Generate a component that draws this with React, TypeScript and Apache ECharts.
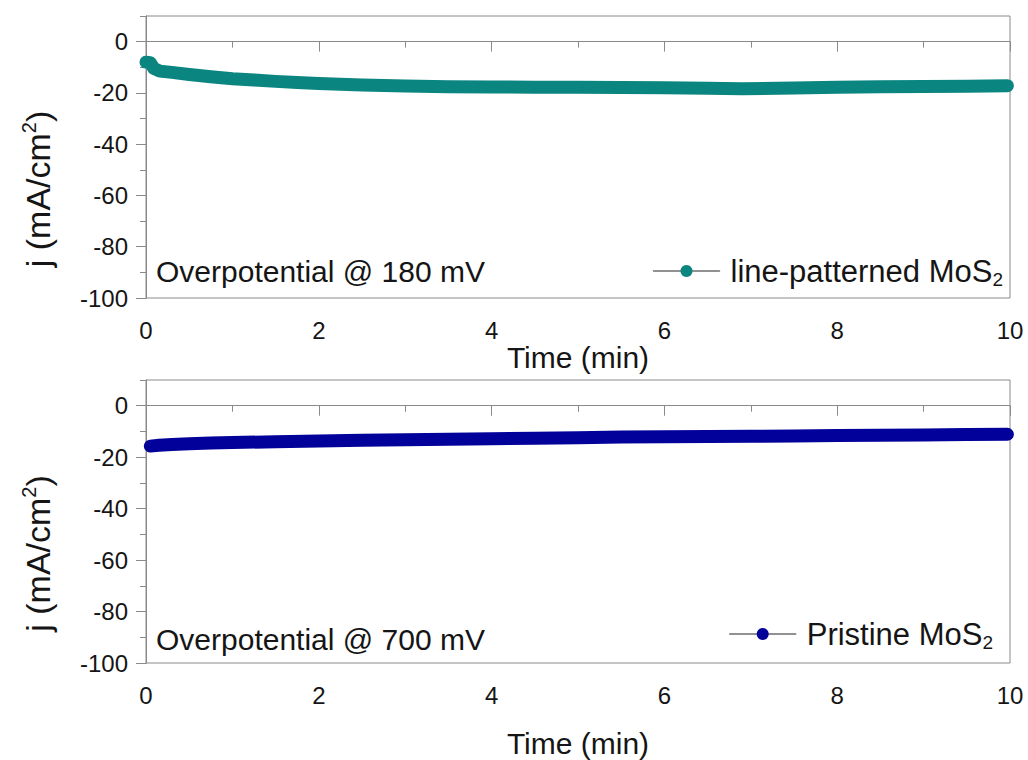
import React, { useEffect, useRef } from "react";
import * as echarts from "echarts";

const TIME_TOP = [0, 0.05, 0.09, 0.16, 0.3, 0.5, 0.75, 1.0, 1.25, 1.5, 1.75, 2.0, 2.5, 3.0, 3.5, 4.0, 4.5, 5.0, 5.5, 6.0, 6.5, 6.9, 7.5, 8.0, 8.5, 9.0, 9.5, 9.97];
const J_TOP = [-8.0, -8.2, -10.4, -11.5, -12.0, -12.8, -13.7, -14.5, -15.0, -15.5, -15.9, -16.3, -16.9, -17.3, -17.6, -17.7, -17.8, -17.8, -17.9, -18.0, -18.2, -18.4, -18.1, -17.8, -17.6, -17.5, -17.4, -17.2];

const TIME_BOTTOM = [0.05, 0.15, 0.3, 0.5, 0.75, 1.0, 1.5, 2.0, 2.5, 3.0, 3.5, 4.0, 4.5, 5.0, 5.5, 6.0, 6.5, 7.0, 7.5, 8.0, 8.5, 9.0, 9.5, 9.97];
const J_BOTTOM = [-15.7, -15.4, -15.1, -14.8, -14.5, -14.3, -14.0, -13.7, -13.4, -13.2, -13.0, -12.8, -12.6, -12.4, -12.2, -12.1, -12.0, -11.9, -11.8, -11.6, -11.5, -11.4, -11.2, -11.1];

const SERIES_NAMES = ["line-patterned MoS2", "Pristine MoS2"];
const ANNOTATIONS = ["Overpotential @ 180 mV", "Overpotential @ 700 mV"];
const X_TITLE = "Time (min)";
const Y_TITLE = "j (mA/cm{sup|2})";

const COLORS = ["#0b8580", "#02029a"];
const FONT = "Liberation Sans, Arial, Helvetica, sans-serif";
const AXIS_GRAY = "#8a8a8a";
const TEXT = "#151515";

export default function App() {
  const ref = useRef<HTMLDivElement>(null);

  useEffect(() => {
    document.body.style.margin = "0";
    const chart = echarts.init(ref.current!, null, { renderer: "svg" });

    const grids = [
      { left: 146, top: 16, width: 864, height: 282 },
      { left: 146, top: 380, width: 864, height: 283 },
    ];

    const xAxes = grids.map((_, i) => ({
      type: "value",
      gridIndex: i,
      min: 0,
      max: 10,
      interval: 2,
      name: X_TITLE,
      nameLocation: "middle",
      nameGap: i === 0 ? 44 : 65,
      nameTextStyle: { fontFamily: FONT, fontSize: 30, color: TEXT },
      axisLine: { show: true, lineStyle: { color: AXIS_GRAY, width: 1 } },
      axisTick: { show: true, inside: false, length: 10, lineStyle: { color: AXIS_GRAY } },
      minorTick: { show: true, splitNumber: 2, length: 6, lineStyle: { color: AXIS_GRAY } },
      axisLabel: { fontFamily: FONT, fontSize: 24, color: TEXT, margin: 20 },
      splitLine: { show: false },
    }));

    const yAxes: any[] = [];
    grids.forEach((_, i) => {
      yAxes.push({
        type: "value",
        gridIndex: i,
        position: "left",
        min: -100,
        max: 10,
        interval: 10,
        axisLine: { show: true, lineStyle: { color: AXIS_GRAY, width: 1 } },
        axisTick: { show: true, inside: false, length: 6, lineStyle: { color: AXIS_GRAY } },
        axisLabel: { show: false },
        splitLine: { show: false },
      });
      yAxes.push({
        type: "value",
        gridIndex: i,
        position: "left",
        min: -100,
        max: 10,
        interval: 20,
        name: Y_TITLE,
        nameLocation: "middle",
        nameGap: 89,
        nameTextStyle: {
          fontFamily: FONT,
          fontSize: 34,
          color: TEXT,
          lineHeight: 38,
          padding: [0, 64, 0, 0],
          rich: {
            sup: { fontFamily: FONT, fontSize: 20, color: TEXT, verticalAlign: "top", lineHeight: 18 },
          },
        },
        axisLine: { show: true, lineStyle: { color: AXIS_GRAY, width: 1 } },
        axisTick: { show: true, inside: false, length: 10, lineStyle: { color: AXIS_GRAY } },
        axisLabel: { fontFamily: FONT, fontSize: 24, color: TEXT, margin: 18, showMaxLabel: false },
        splitLine: { show: false },
      });
    });

    const topData = TIME_TOP.map((t, k) => [t, J_TOP[k]]);
    const bottomData = TIME_BOTTOM.map((t, k) => [t, J_BOTTOM[k]]);

    const legendCommon = {
      orient: "horizontal",
      padding: 0,
      itemWidth: 66,
      itemHeight: 15,
      lineStyle: { width: 1.5, color: "#6e6e6e" },
      formatter: (n: string) => n.slice(0, -1) + "{sub|2}",
      textStyle: {
        fontFamily: FONT,
        fontSize: 31,
        color: TEXT,
        lineHeight: 36,
        padding: [0, 0, 0, 6],
        rich: {
          sub: { fontFamily: FONT, fontSize: 19, color: TEXT, verticalAlign: "bottom", lineHeight: 8 },
        },
      },
    };

    chart.setOption({
      animation: false,
      backgroundColor: "#ffffff",
      grid: grids.map((g) => ({
        ...g,
        show: true,
        borderColor: AXIS_GRAY,
        borderWidth: 1,
        backgroundColor: "transparent",
      })),
      xAxis: xAxes,
      yAxis: yAxes,
      legend: [
        { ...legendCommon, data: [SERIES_NAMES[0]], right: 25, top: 253 },
        { ...legendCommon, data: [SERIES_NAMES[1]], right: 35, top: 616 },
      ],
      graphic: [
        {
          type: "text",
          left: 156,
          top: 256,
          style: { text: ANNOTATIONS[0], fontFamily: FONT, fontSize: 30, fill: TEXT },
        },
        {
          type: "text",
          left: 156,
          top: 624,
          style: { text: ANNOTATIONS[1], fontFamily: FONT, fontSize: 30, fill: TEXT },
        },
      ],
      series: [
        {
          name: SERIES_NAMES[0],
          type: "line",
          xAxisIndex: 0,
          yAxisIndex: 0,
          data: topData,
          symbol: "none",
          color: COLORS[0],
          lineStyle: { width: 13, color: COLORS[0], cap: "round", join: "round" },
        },
        {
          name: SERIES_NAMES[1],
          type: "line",
          xAxisIndex: 1,
          yAxisIndex: 2,
          data: bottomData,
          symbol: "none",
          color: COLORS[1],
          lineStyle: { width: 13, color: COLORS[1], cap: "round", join: "round" },
        },
      ],
    });

    return () => chart.dispose();
  }, []);

  return (
    <div
      ref={ref}
      style={{ position: "absolute", left: 0, top: 0, width: 1028, height: 760 }}
    />
  );
}
